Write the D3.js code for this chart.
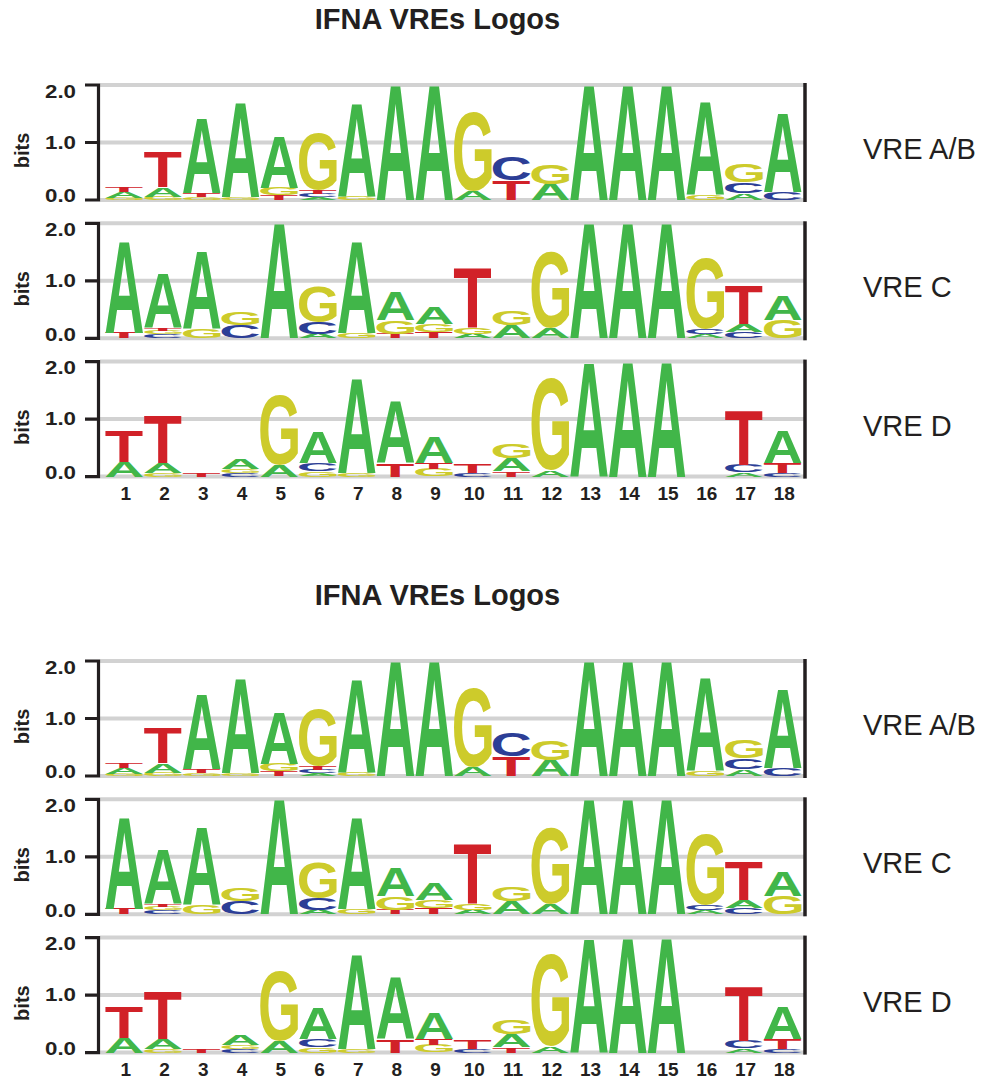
<!DOCTYPE html>
<html><head><meta charset="utf-8">
<script src="https://cdn.jsdelivr.net/npm/d3@7"></script>
<style>body{margin:0;background:#fff}svg{display:block}</style>
</head><body>
<script>
// ---------- data ----------
const chartTitle = "IFNA VREs Logos";
const panelNames = ["VRE A/B", "VRE C", "VRE D"];
const positions = [1,2,3,4,5,6,7,8,9,10,11,12,13,14,15,16,17,18];
const tickValues = [0, 1, 2];
const tickLabels = ["0.0", "1.0", "2.0"];
const yLabel = "bits";

// stacks listed bottom -> top, heights in bits
const vreAB = [
  [["G",0.04],["A",0.10],["T",0.09]],
  [["G",0.06],["A",0.16],["T",0.61]],
  [["G",0.05],["T",0.07],["A",1.30]],
  [["G",0.05],["A",1.65]],
  [["T",0.08],["G",0.13],["A",0.90]],
  [["A",0.05],["C",0.06],["T",0.07],["G",0.98]],
  [["G",0.06],["A",1.63]],
  [["A",2.00]],
  [["A",2.00]],
  [["A",0.16],["G",1.38]],
  [["T",0.34],["C",0.40]],
  [["A",0.28],["G",0.35]],
  [["A",2.00]],
  [["A",2.00]],
  [["A",2.00]],
  [["G",0.08],["A",1.62]],
  [["A",0.12],["C",0.18],["G",0.31]],
  [["C",0.14],["A",1.38]]
];
const vreC = [
  [["T",0.10],["A",1.60]],
  [["C",0.07],["G",0.06],["T",0.05],["A",0.95]],
  [["G",0.16],["A",1.36]],
  [["C",0.22],["G",0.23]],
  [["A",2.00]],
  [["A",0.08],["C",0.20],["G",0.62]],
  [["G",0.10],["A",1.60]],
  [["T",0.08],["G",0.23],["A",0.49]],
  [["T",0.11],["G",0.14],["A",0.29]],
  [["A",0.08],["G",0.12],["T",1.03]],
  [["A",0.22],["G",0.24]],
  [["A",0.17],["G",1.32]],
  [["A",2.00]],
  [["A",2.00]],
  [["A",2.00]],
  [["A",0.07],["C",0.09],["G",1.24]],
  [["C",0.11],["A",0.14],["T",0.67]],
  [["G",0.31],["A",0.42]]
];
const vreD = [
  [["A",0.26],["T",0.55]],
  [["G",0.06],["A",0.17],["T",0.83]],
  [["T",0.07]],
  [["C",0.06],["G",0.07],["A",0.17]],
  [["A",0.20],["G",1.22]],
  [["G",0.10],["C",0.13],["A",0.55]],
  [["G",0.07],["A",1.65]],
  [["T",0.23],["A",1.08]],
  [["G",0.13],["T",0.10],["A",0.45]],
  [["C",0.06],["T",0.16]],
  [["T",0.09],["A",0.23],["G",0.26]],
  [["A",0.11],["G",1.61]],
  [["A",1.99]],
  [["A",2.00]],
  [["A",2.00]],
  [],
  [["A",0.07],["C",0.14],["T",0.94]],
  [["C",0.07],["T",0.17],["A",0.57]]
];
const panels = [vreAB, vreC, vreD];
const letterColors = {A:"#41b649", C:"#2c3e96", G:"#cdcb2b", T:"#d12128"};

// ---------- layout ----------
const W = 993, H = 1081;
const FONT = "'Liberation Sans', Arial, Helvetica, sans-serif";
const INK = "#231f20";
const copyOffsets = [0, 576];
const panelTop0 = 85, panelStep = 138.3, panelH = 115;

const svg = d3.select("body").append("svg").attr("width", W).attr("height", H);
svg.append("rect").attr("width", W).attr("height", H).attr("fill", "#fff");

// tight glyph metrics
const ctx = document.createElement("canvas").getContext("2d");
ctx.font = "bold 100px 'Liberation Sans'";
const metrics = {};
for (const L of "ACGT") {
  const m = ctx.measureText(L);
  metrics[L] = {left: m.actualBoundingBoxLeft, right: m.actualBoundingBoxRight,
                asc: m.actualBoundingBoxAscent, desc: m.actualBoundingBoxDescent};
}

const x = d3.scaleBand().domain(positions).range([105, 802]).paddingInner(0.025).paddingOuter(0.01);

copyOffsets.forEach(off => {
  const g = svg.append("g");
  g.append("text").attr("x", 437.5).attr("y", 29 + off)
    .attr("text-anchor", "middle").attr("font-family", FONT).attr("font-weight", "bold")
    .attr("font-size", 29).attr("fill", INK).text(chartTitle);

  panels.forEach((data, k) => {
    const top = off + panelTop0 + panelStep * k;
    const y = d3.scaleLinear().domain([0, 2]).range([top + panelH, top]);
    const pg = g.append("g");

    // gridlines
    pg.selectAll("line.grid").data(tickValues).join("line")
      .attr("x1", 100).attr("x2", 805)
      .attr("y1", d => y(d)).attr("y2", d => y(d))
      .attr("stroke", "#d2d2d2").attr("stroke-width", 4);

    // letters
    data.forEach((stack, i) => {
      let cum = 0;
      const x0 = x(positions[i]), w = x.bandwidth();
      stack.forEach(([L, h]) => {
        const yTop = y(cum + h), hp = y(cum) - y(cum + h);
        cum += h;
        const m = metrics[L];
        const sx = w / (m.left + m.right), sy = hp / (m.asc + m.desc);
        pg.append("text").text(L)
          .attr("font-family", FONT).attr("font-weight", "bold").attr("font-size", 100)
          .attr("fill", letterColors[L])
          .attr("transform", `translate(${x0 + m.left * sx},${yTop + m.asc * sy}) scale(${sx},${sy})`);
      });
    });

    // left bracket axis
    pg.append("path")
      .attr("d", `M85,${y(2)}H98.5V${y(0)}H85M85,${y(1)}H98.5`)
      .attr("fill", "none").attr("stroke", INK).attr("stroke-width", 3.2);
    const labOff = [-4, 0, 6.5];
    pg.selectAll("text.tick").data(tickValues).join("text")
      .attr("x", 76).attr("y", (d, j) => y(d) + labOff[j])
      .attr("dy", "0.36em").attr("text-anchor", "end")
      .attr("font-family", FONT).attr("font-weight", "bold").attr("font-size", 17.5)
      .attr("textLength", 31).attr("lengthAdjust", "spacingAndGlyphs")
      .attr("fill", INK).text((d, j) => tickLabels[j]);
    pg.append("text")
      .attr("transform", `translate(21.5,${(y(0) + y(2)) / 2 + 8}) rotate(-90)`)
      .attr("text-anchor", "middle").attr("dy", "0.36em")
      .attr("font-family", FONT).attr("font-weight", "bold").attr("font-size", 20)
      .attr("fill", INK).text(yLabel);

    // right axis line
    pg.append("line").attr("x1", 805).attr("x2", 805)
      .attr("y1", y(2) - 2).attr("y2", y(0) + 2)
      .attr("stroke", INK).attr("stroke-width", 3.5);

    // panel label
    pg.append("text").attr("x", 863).attr("y", (y(0) + y(2)) / 2 + 16.5)
      .attr("font-family", FONT).attr("font-size", 29).attr("fill", INK)
      .text(panelNames[k]);

    // position numbers under last panel
    if (k === panels.length - 1) {
      pg.selectAll("text.num").data(positions).join("text")
        .attr("x", d => x(d) + x.bandwidth() / 2 + 1.5)
        .attr("y", y(0) + 23)
        .attr("text-anchor", "middle")
        .attr("font-family", FONT).attr("font-weight", "bold").attr("font-size", 19)
        .attr("fill", INK).text(d => d);
    }
  });
});
</script>
</body></html>
